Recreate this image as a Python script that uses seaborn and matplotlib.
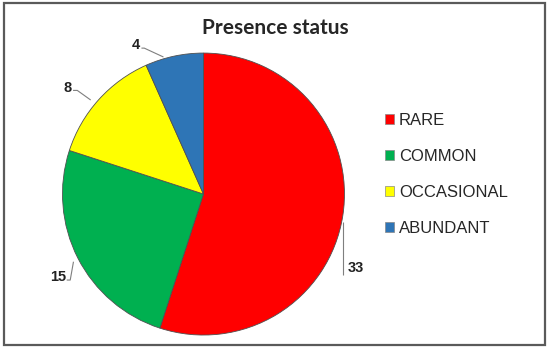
import matplotlib
matplotlib.use("Agg")
import matplotlib.pyplot as plt
from matplotlib.patches import Rectangle, Patch
import seaborn as sns

# data
categories = ["RARE", "COMMON", "OCCASIONAL", "ABUNDANT"]
counts = [33, 15, 8, 4]
colors = ["#FF0000", "#00B050", "#FFFF00", "#2E75B6"]

sns.set_theme(style="white")
plt.rcParams["font.family"] = ["Liberation Sans", "DejaVu Sans"]

fig = plt.figure(figsize=(5.5, 3.49), dpi=100)
fig.patch.set_facecolor("white")

# outer frame
fig.add_artist(Rectangle((0.007, 0.012), 0.984, 0.978, transform=fig.transFigure,
                         fill=False, edgecolor="#5a5a5a", linewidth=1.6))

ax = fig.add_axes([0.1127, 0.040, 0.5145, 0.808])
wedges, _ = ax.pie(counts, colors=colors, startangle=90, counterclock=False,
                   wedgeprops=dict(edgecolor="#505050", linewidth=0.6))
ax.set_xlim(-1, 1)
ax.set_ylim(-1, 1)
ax.set_aspect("equal")

# Excel-style data labels: leader polyline + text position/alignment
leaders = {
    "RARE": ([(0.993, -0.20), (0.993, -0.575)], (1.025, -0.525), "left"),
    "COMMON": ([(-0.97, -0.61), (-0.945, -0.61), (-0.922, -0.48)], (-0.975, -0.585), "right"),
    "OCCASIONAL": ([(-0.925, 0.735), (-0.895, 0.735), (-0.80, 0.667)], (-0.935, 0.755), "right"),
    "ABUNDANT": ([(-0.44, 1.035), (-0.42, 1.035), (-0.284, 0.972)], (-0.45, 1.06), "right"),
}
for cat, val in zip(categories, counts):
    pts, txt, ha = leaders[cat]
    ax.plot([p[0] for p in pts], [p[1] for p in pts], color="#7f7f7f", lw=0.8,
            clip_on=False, solid_capstyle="butt")
    ax.text(txt[0], txt[1], str(val), ha=ha, va="center", fontsize=10.5,
            fontweight="bold", color="#222222", clip_on=False)

fig.text(0.5, 0.92, "Presence status", ha="center", va="center",
         fontsize=15, fontweight="bold", family=["Lato", "DejaVu Sans"])

handles = [Patch(facecolor=c, edgecolor="#888888", linewidth=0.5) for c in colors]
fig.legend(handles, categories, loc="center left", bbox_to_anchor=(0.672, 0.50),
           frameon=False, fontsize=12, labelspacing=1.27,
           handlelength=0.55, handleheight=0.55, handletextpad=0.3)

fig.savefig("out.png", dpi=100)
